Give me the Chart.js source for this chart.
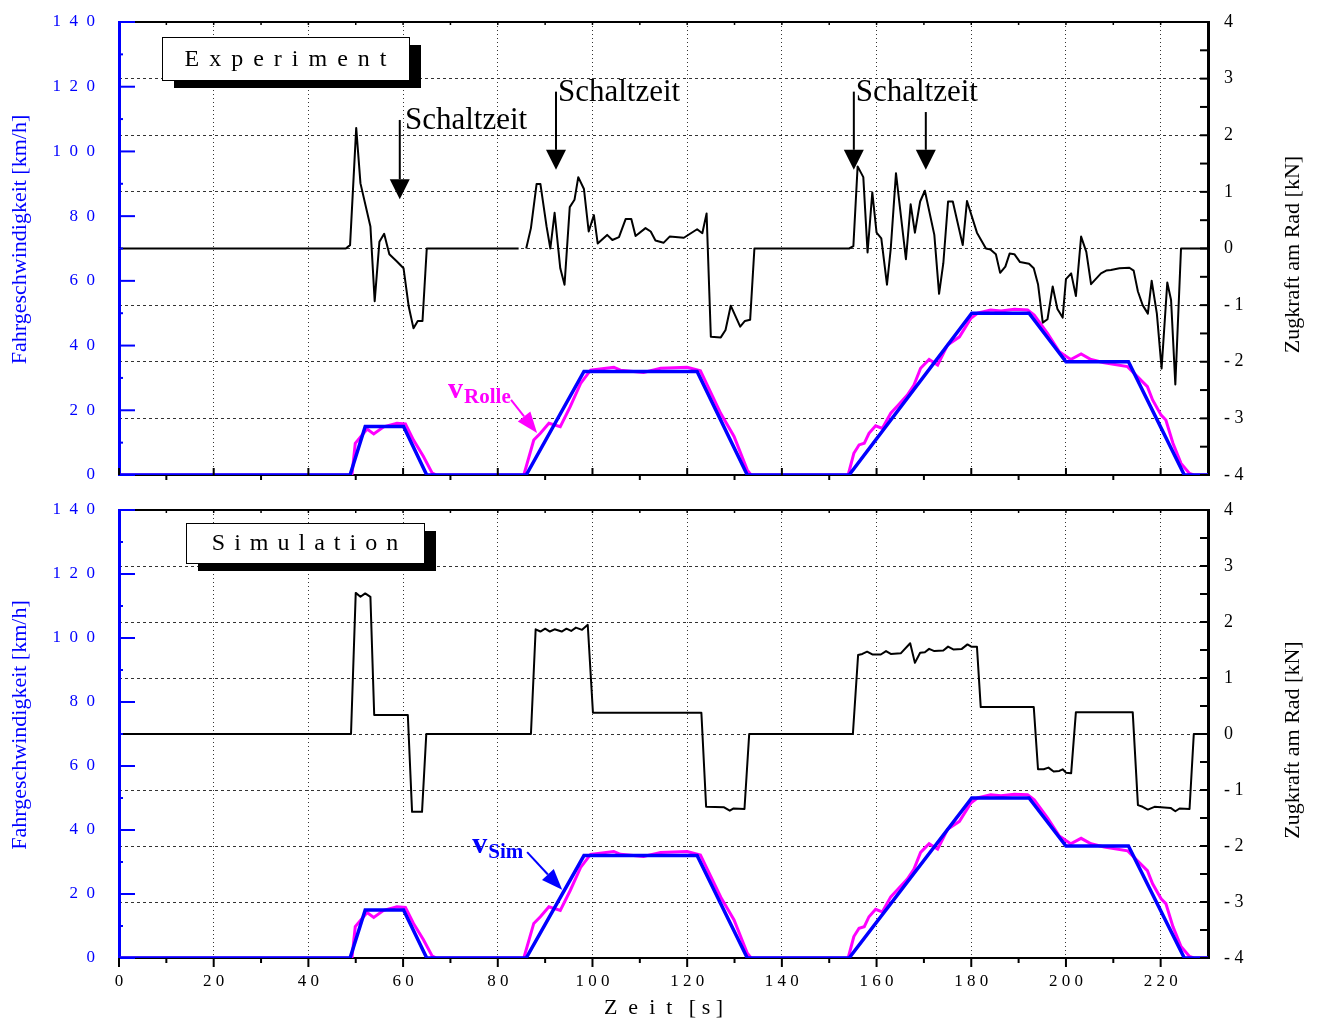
<!DOCTYPE html>
<html>
<head>
<meta charset="utf-8">
<title>Experiment / Simulation</title>
<script src="https://cdn.jsdelivr.net/npm/chart.js@4.4.0/dist/chart.umd.min.js"></script>
<style>
  html, body { margin: 0; padding: 0; background: #fff; }
  #wrap { position: relative; width: 1317px; height: 1019px; overflow: hidden; }
  canvas { position: absolute; left: 0; }
  #topPanel { top: 0; }
  #bottomPanel { top: 495px; }
</style>
</head>
<body>
<div id="wrap">
  <canvas id="topPanel" width="1317" height="495"></canvas>
  <canvas id="bottomPanel" width="1317" height="524"></canvas>
</div>
<script>
const FONT = '"Liberation Serif", "Times New Roman", serif';

// axes
const timeTicks = [0, 20, 40, 60, 80, 100, 120, 140, 160, 180, 200, 220];
const timeLabels = ['0', '2 0', '4 0', '6 0', '8 0', '1 0 0', '1 2 0', '1 4 0', '1 6 0', '1 8 0', '2 0 0', '2 2 0'];
const speedTicks = [0, 20, 40, 60, 80, 100, 120, 140];
const speedLabels = ['0', '2  0', '4  0', '6  0', '8  0', '1  0  0', '1  2  0', '1  4  0'];
const forceTicks = [-4, -3, -2, -1, 0, 1, 2, 3, 4];
const forceLabels = ['- 4', '- 3', '- 2', '- 1', '0', '1', '2', '3', '4'];

// [time s, speed km/h]
const vSim = [
  [0, 0], [48.8, 0], [52, 15], [60.1, 15], [65, 0], [86, 0], [98.2, 32], [122.1, 32],
  [132.7, 0], [154.2, 0], [180.1, 50], [192.2, 50], [200, 35], [213.2, 35], [225, 0], [230, 0]
];

const vRolle = [
  [0, 0], [49.2, 0], [49.9, 9.8], [52.4, 14.2], [53.8, 12.7], [55.9, 14.9], [58.7, 16],
  [60.5, 15.8], [62.2, 10.8], [64.3, 5.7], [66.1, 0.7], [67, 0], [85.5, 0], [87.6, 10.8],
  [89, 12.9], [90.8, 16], [93.2, 14.9], [95.3, 21.1], [97.5, 28.3], [99.6, 32.4],
  [104.5, 33.3], [105.9, 32.4], [110.8, 31.7], [114.4, 33], [120, 33.3], [122.8, 32.2],
  [127.1, 19], [129.9, 11.9], [132.7, 1.5], [133.5, 0], [154, 0], [155.2, 6.7],
  [156.3, 9.3], [157.4, 9.8], [158.4, 12.9], [159.8, 15.2], [161.2, 14.4], [163, 19.1],
  [164.4, 21.3], [166.5, 24.7], [167.9, 27.8], [169.3, 33], [171.1, 35.7], [172.9, 34],
  [175, 40.2], [177.5, 42.7], [179.9, 48.4], [181.3, 50], [184.1, 51], [186.3, 50.7],
  [189.1, 51.2], [191.9, 51], [193.3, 49.4], [196.1, 43.8], [198.6, 38.1], [201, 35.7],
  [203.2, 37.4], [205.3, 35.7], [208.1, 34.7], [213, 33.5], [217.2, 27.3], [218.3, 23.2],
  [220.1, 18.5], [221.1, 17], [222.6, 9.8], [224.3, 3.6], [226.1, 0.5], [227, 0], [230, 0]
];

// [time s, tractive force kN]
const expForce = [
  [0, 0], [47.9, 0], [48.8, 0.06], [50.1, 2.13], [51, 1.15], [53.1, 0.39], [54, -0.93],
  [55, 0.12], [56, 0.26], [57.1, -0.1], [58.7, -0.23], [60.1, -0.35], [61.2, -1.03],
  [62.2, -1.41], [63.1, -1.28], [64.1, -1.28], [65, 0], [84.4, 0], [85.2, null],
  [86, 0], [87, 0.36], [88.2, 1.14], [89, 1.14], [90.3, 0.39], [91.1, 0], [92, 0.63],
  [93.2, -0.35], [94.1, -0.64], [95.2, 0.73], [96.2, 0.86], [97, 1.26], [98.2, 1.05],
  [99.2, 0.3], [100.3, 0.59], [101.1, 0.09], [103.1, 0.24], [104.2, 0.15], [105.6, 0.2],
  [107, 0.52], [108.2, 0.52], [109.1, 0.22], [111.2, 0.36], [112.3, 0.3], [113.3, 0.14],
  [115, 0.1], [116.3, 0.21], [119.3, 0.19], [122.1, 0.34], [123.2, 0.27], [124.1, 0.62],
  [125, -1.56], [127.1, -1.57], [128.1, -1.44], [129.2, -1.01], [131.2, -1.38],
  [132.2, -1.28], [133.3, -1.26], [134.2, 0], [154.2, 0], [155.1, 0.04], [156, 1.45],
  [157.2, 1.26], [158.1, -0.07], [159.1, 0.99], [160, 0.28], [161, 0.18], [162.2, -0.64],
  [163, 0], [164.1, 1.33], [166.2, -0.19], [167.2, 0.78], [168.1, 0.28], [169.2, 0.83],
  [170.2, 1.02], [172.2, 0.24], [173.2, -0.8], [174.1, -0.26], [175.1, 0.83], [176.1, 0.83],
  [178.2, 0.06], [179.1, 0.84], [181.2, 0.28], [183.1, 0], [184.1, -0.02], [185.2, -0.1],
  [186.1, -0.43], [187.2, -0.32], [188.1, -0.09], [189.1, -0.1], [190.3, -0.24],
  [192.2, -0.27], [193.2, -0.35], [194.1, -0.63], [195.1, -1.31], [196.1, -1.25],
  [197.2, -0.67], [198.2, -1.07], [199.3, -1.22], [200, -0.54], [201.1, -0.44],
  [202.1, -0.84], [203.2, 0.21], [204.3, -0.06], [205.3, -0.63], [207.4, -0.44],
  [208.5, -0.39], [209.5, -0.38], [211.3, -0.35], [213.4, -0.34], [214.3, -0.39],
  [215.2, -0.76], [216.2, -1], [217.3, -1.15], [218.1, -0.57], [219.2, -1.15],
  [220.2, -2.12], [221.4, -0.6], [222.2, -0.91], [223.1, -2.4], [224.3, 0], [230, 0]
];

const simForce = [
  [0, 0], [49, 0], [50, 2.52], [51, 2.45], [52, 2.51], [53.1, 2.45], [53.9, 0.34],
  [61, 0.34], [61.9, -1.39], [64, -1.39], [64.9, 0], [87, 0], [88, 1.87], [89, 1.83],
  [90, 1.88], [91, 1.83], [92, 1.87], [93.5, 1.83], [94.5, 1.88], [95.5, 1.84],
  [96.5, 1.9], [97.8, 1.86], [99, 1.95], [100.1, 0.38], [123, 0.38], [124, -1.3],
  [127.8, -1.31], [129, -1.37], [129.8, -1.33], [132.1, -1.34], [133.1, 0], [155, 0],
  [156.1, 1.41], [157, 1.43], [158, 1.47], [159.1, 1.42], [160.9, 1.42], [162, 1.48],
  [163, 1.43], [165.1, 1.44], [167.1, 1.62], [168.1, 1.27], [169.2, 1.45], [170.2, 1.46],
  [171.1, 1.52], [172.2, 1.48], [174.1, 1.49], [175.1, 1.56], [176.2, 1.51], [178, 1.52],
  [179.2, 1.6], [180, 1.56], [181.2, 1.56], [182, 0.48], [193.2, 0.48], [194.1, -0.63],
  [195.3, -0.63], [196.3, -0.6], [197.4, -0.67], [198.6, -0.66], [199.3, -0.63],
  [200, -0.69], [201.1, -0.7], [202.1, 0.39], [214.1, 0.39], [215.2, -1.27], [216.2, -1.3],
  [217.3, -1.35], [218.7, -1.3], [222.1, -1.32], [223.1, -1.38], [224, -1.33],
  [226.1, -1.34], [227, 0], [230, 0]
];

function toXY(pairs) {
  return pairs.map(p => ({ x: p[0], y: p[1] }));
}

function stroke(ctx, x0, y0, x1, y1) {
  ctx.beginPath();
  ctx.moveTo(x0, y0);
  ctx.lineTo(x1, y1);
  ctx.stroke();
}

// line with a filled triangular head at (x1, y1)
function arrow(ctx, x0, y0, x1, y1, headLen, headHalf) {
  const ang = Math.atan2(y1 - y0, x1 - x0);
  const bx = x1 - headLen * Math.cos(ang);
  const by = y1 - headLen * Math.sin(ang);
  stroke(ctx, x0, y0, bx, by);
  ctx.beginPath();
  ctx.moveTo(x1, y1);
  ctx.lineTo(bx + headHalf * Math.sin(ang), by - headHalf * Math.cos(ang));
  ctx.lineTo(bx - headHalf * Math.sin(ang), by + headHalf * Math.cos(ang));
  ctx.closePath();
  ctx.fill();
}

const panelDecor = {
  id: 'panelDecor',
  afterDraw(chart, args, o) {
    const { ctx, chartArea: a } = chart;
    const { x, y, y1 } = chart.scales;
    ctx.save();

    // frame top
    ctx.strokeStyle = '#000';
    ctx.lineWidth = 2;
    stroke(ctx, a.left, a.top, a.right, a.top);

    // inward ticks on the speed axis
    ctx.strokeStyle = '#0000ff';
    speedTicks.forEach(v => {
      const py = y.getPixelForValue(v);
      stroke(ctx, a.left, py, a.left + 16, py);
    });
    for (let v = 10; v < 140; v += 20) {
      const py = y.getPixelForValue(v);
      stroke(ctx, a.left, py, a.left + 4, py);
    }

    // inward ticks on the force axis
    ctx.strokeStyle = '#000';
    for (let f = -4; f <= 4; f += 0.5) {
      const py = y1.getPixelForValue(f);
      stroke(ctx, a.right - 8, py, a.right, py);
    }

    // time ticks
    timeTicks.forEach(t => {
      const px = x.getPixelForValue(t);
      stroke(ctx, px, a.bottom, px, a.bottom + o.majorTick);
    });
    for (let t = 10; t < 230; t += 20) {
      const px = x.getPixelForValue(t);
      stroke(ctx, px, a.bottom, px, a.bottom + 5);
    }
    ctx.lineWidth = 1.5;
    for (let t = 10; t < 230; t += 10) {
      const px = x.getPixelForValue(t);
      stroke(ctx, px, a.top, px, a.top + 3);
    }

    // axis titles (both read bottom to top)
    const mid = (a.top + a.bottom) / 2;
    ctx.font = '22px ' + FONT;
    ctx.textAlign = 'center';
    ctx.textBaseline = 'middle';
    ctx.save();
    ctx.translate(20, mid - 9);
    ctx.rotate(-Math.PI / 2);
    ctx.fillStyle = '#0000ff';
    ctx.fillText('Fahrgeschwindigkeit [km/h]', 0, 0);
    ctx.restore();
    ctx.save();
    ctx.translate(1293, mid + 6);
    ctx.rotate(-Math.PI / 2);
    ctx.fillStyle = '#000';
    ctx.fillText('Zugkraft am Rad [kN]', 0, 0);
    ctx.restore();

    // title box with shadow
    const b = o.box;
    const bx = a.left + b.dx, by = a.top + b.dy;
    ctx.fillStyle = '#000';
    ctx.fillRect(bx + 12, by + 8, b.w, b.h);
    ctx.fillStyle = '#fff';
    ctx.fillRect(bx, by, b.w, b.h);
    ctx.lineWidth = 1;
    ctx.strokeStyle = '#000';
    ctx.strokeRect(bx + 0.5, by + 0.5, b.w, b.h);
    ctx.fillStyle = '#000';
    ctx.font = '24px ' + FONT;
    ctx.letterSpacing = b.spacing + 'px';
    ctx.fillText(b.text, bx + b.w / 2 + b.spacing / 2, by + b.h / 2 + 1);
    ctx.letterSpacing = '0px';

    // shift-time arrows and notes
    ctx.lineWidth = 2;
    ctx.strokeStyle = '#000';
    ctx.fillStyle = '#000';
    (o.arrows || []).forEach(ar => {
      const px = x.getPixelForValue(ar.t);
      arrow(ctx, px, y1.getPixelForValue(ar.from), px, y1.getPixelForValue(ar.to), 20, 10);
    });
    ctx.font = '31px ' + FONT;
    ctx.textAlign = 'left';
    ctx.textBaseline = 'alphabetic';
    (o.notes || []).forEach(n => {
      ctx.fillText(n.text, x.getPixelForValue(n.t), y1.getPixelForValue(n.f));
    });

    // speed curve label
    const vl = o.vLabel;
    const lx = x.getPixelForValue(vl.t), ly = y.getPixelForValue(vl.v);
    ctx.fillStyle = vl.color;
    ctx.strokeStyle = vl.color;
    ctx.font = 'bold 30px ' + FONT;
    ctx.fillText(vl.main, lx, ly);
    const w = ctx.measureText(vl.main).width;
    ctx.font = 'bold 21px ' + FONT;
    ctx.fillText(vl.sub, lx + w + 1, ly + 5);
    ctx.lineWidth = 2;
    arrow(ctx, x.getPixelForValue(vl.from[0]), y.getPixelForValue(vl.from[1]),
      x.getPixelForValue(vl.to[0]), y.getPixelForValue(vl.to[1]), 21, 8);

    ctx.restore();
  }
};

function makePanel(canvasId, forceSeries, panel) {
  const hideEdge = (edges, color) => c => (c.tick && edges.includes(c.tick.value)) ? 'rgba(0,0,0,0)' : color;
  return new Chart(document.getElementById(canvasId), {
    type: 'line',
    data: {
      datasets: [
        { label: 'vSim', data: toXY(vSim), yAxisID: 'y', borderColor: '#0000ff', borderWidth: 3.5 },
        { label: 'vRolle', data: toXY(vRolle), yAxisID: 'y', borderColor: '#ff00ff', borderWidth: 3 },
        { label: 'Zugkraft', data: toXY(forceSeries), yAxisID: 'y1', borderColor: '#000', borderWidth: 2,
          spanGaps: false, borderJoinStyle: 'round' }
      ]
    },
    options: {
      responsive: false,
      animation: false,
      events: [],
      layout: { padding: { top: panel.padTop, left: 0, right: 0, bottom: 0 } },
      elements: { point: { radius: 0 }, line: { tension: 0 } },
      plugins: { legend: { display: false }, tooltip: { enabled: false }, panelDecor: panel },
      scales: {
        x: {
          type: 'linear', min: 0, max: 230,
          afterBuildTicks: s => { s.ticks = timeTicks.map(v => ({ value: v })); },
          afterFit: s => { s.height = panel.xHeight; },
          grid: { color: hideEdge([0], '#333'), lineWidth: 1, drawTicks: false },
          border: { display: true, color: '#000', width: 2, dash: [1, 3] },
          ticks: {
            display: panel.showTime, padding: 13, color: '#000', maxRotation: 0, autoSkip: false,
            font: { family: FONT, size: 17 },
            callback: v => timeLabels[timeTicks.indexOf(v)]
          },
          title: {
            display: panel.showTime, text: 'Z  e  i  t   [ s ]', color: '#000',
            font: { family: FONT, size: 22 }, padding: { top: 0, bottom: -2 }
          }
        },
        y: {
          position: 'left', min: 0, max: 140,
          afterBuildTicks: s => { s.ticks = speedTicks.map(v => ({ value: v })); },
          afterFit: s => { s.width = 119; },
          // invisible tick marks give the label gap without padding the chart area
          grid: { drawOnChartArea: false, drawTicks: true, tickLength: 24, tickColor: 'rgba(0,0,0,0)' },
          border: { display: true, color: '#0000ff', width: 3 },
          ticks: {
            padding: 0, color: '#0000ff', font: { family: FONT, size: 17 },
            callback: v => speedLabels[speedTicks.indexOf(v)]
          }
        },
        y1: {
          position: 'right', min: -4, max: 4,
          afterBuildTicks: s => { s.ticks = forceTicks.map(v => ({ value: v })); },
          afterFit: s => { s.width = 109; },
          grid: { drawOnChartArea: true, drawTicks: true, tickLength: 16, tickColor: 'rgba(0,0,0,0)',
            color: hideEdge([-4, 4], '#333'), lineWidth: 1 },
          border: { display: true, color: '#000', width: 3, dash: [3, 3] },
          ticks: {
            padding: 0, color: '#000', font: { family: FONT, size: 18 },
            callback: v => forceLabels[forceTicks.indexOf(v)]
          }
        }
      }
    },
    plugins: [panelDecor]
  });
}

makePanel('topPanel', expForce, {
  padTop: 22, xHeight: 20, majorTick: -7, showTime: false,
  box: { text: 'Experiment', dx: 43, dy: 15, w: 247, h: 43, spacing: 10 },
  arrows: [
    { t: 59.3, from: 2.27, to: 0.87 },
    { t: 92.3, from: 2.77, to: 1.39 },
    { t: 155.2, from: 2.77, to: 1.39 },
    { t: 170.4, from: 2.41, to: 1.39 }
  ],
  notes: [
    { text: 'Schaltzeit', t: 60.4, f: 2.11 },
    { text: 'Schaltzeit', t: 92.7, f: 2.61 },
    { text: 'Schaltzeit', t: 155.6, f: 2.61 }
  ],
  vLabel: { main: 'v', sub: 'Rolle', color: '#ff00ff', t: 69.5, v: 23.8, from: [82.8, 23.2], to: [88.3, 13] }
});

makePanel('bottomPanel', simForce, {
  padTop: 15, xHeight: 61, majorTick: 9, showTime: true,
  box: { text: 'Simulation', dx: 67, dy: 13, w: 238, h: 40, spacing: 9 },
  arrows: [],
  notes: [],
  vLabel: { main: 'v', sub: 'Sim', color: '#0000ff', t: 74.6, v: 32.8, from: [86.2, 33.1], to: [93.6, 21.3] }
});
</script>
</body>
</html>
